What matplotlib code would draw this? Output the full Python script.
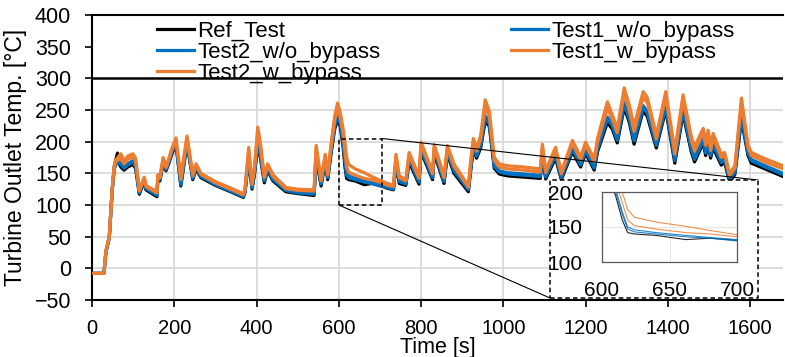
import matplotlib
matplotlib.use("Agg")
import matplotlib.pyplot as plt
from matplotlib.patches import Rectangle, ConnectionPatch

plt.rcParams['font.family'] = ['Liberation Sans', 'DejaVu Sans']

# Time stamps [s] of the recorded turbine outlet temperatures
time_s = [0, 29, 34, 42, 49, 54, 58, 62, 66, 70, 78, 87, 99, 106, 115, 127, 131, 158, 160, 165,
          173, 180, 188, 194, 204, 216, 231, 245, 253, 265, 300, 340, 368, 372, 381, 389, 395, 403, 410, 419,
          427, 440, 471, 500, 540, 545, 557, 567, 573, 581, 590, 597, 603, 610, 615, 619, 624, 640, 662, 680,
          700, 715, 733, 739, 747, 763, 771, 795, 800, 828, 832, 856, 864, 880, 915, 920, 927, 935, 945, 956,
          966, 978, 990, 1010, 1050, 1090, 1095, 1103, 1127, 1141, 1168, 1188, 1200, 1221, 1229, 1253, 1265, 1277, 1294, 1306,
          1318, 1340, 1350, 1372, 1395, 1417, 1437, 1457, 1465, 1486, 1492, 1498, 1504, 1510, 1530, 1538, 1550, 1563, 1579, 1595,
          1603, 1640, 1680]

ref_test = [-8, -8, 26, 48, 122, 160, 172, 182, 165, 160, 155, 160, 164, 158, 117, 137, 124, 113, 140, 138,
            166, 154, 168, 180, 196, 130, 197, 140, 157, 143, 131, 120, 112, 120, 172, 125, 148, 196, 172, 135,
            155, 138, 121, 118, 115, 175, 130, 168, 140, 180, 220, 234, 225, 195, 160, 142, 140, 138, 132, 134,
            131, 127, 124, 165, 134, 131, 168, 133, 184, 140, 181, 134, 180, 150, 121, 150, 188, 174, 190, 233,
            224, 158, 149, 146, 144, 142, 178, 141, 174, 140, 184, 160, 182, 155, 184, 230, 220, 198, 254, 231,
            196, 249, 240, 190, 250, 166, 244, 184, 168, 198, 178, 197, 174, 190, 163, 168, 136, 148, 235, 178,
            166, 156, 145]

test1_wo_bypass = [-8, -8, 27, 49, 123, 157, 164, 166, 166, 164, 158, 163, 168, 160, 119, 139, 126, 115, 142, 140,
                   168, 156, 170, 183, 198, 132, 199, 142, 159, 145, 132, 121, 113, 121, 176, 127, 150, 200, 176, 138,
                   158, 140, 123, 119, 117, 180, 133, 171, 143, 183, 224, 240, 230, 200, 168, 147, 143, 140, 136, 134,
                   130, 128, 125, 168, 137, 133, 172, 136, 187, 143, 184, 137, 183, 154, 124, 153, 192, 177, 194, 238,
                   228, 161, 152, 149, 147, 145, 182, 144, 178, 143, 188, 163, 186, 158, 188, 236, 225, 202, 259, 236,
                   201, 254, 245, 194, 255, 170, 249, 188, 172, 202, 182, 201, 178, 194, 167, 172, 139, 151, 240, 182,
                   170, 159, 148]

test2_wo_bypass = [-8, -8, 27, 49, 123, 157, 165, 167, 168, 165, 160, 165, 170, 162, 120, 140, 127, 116, 143, 141,
                   169, 157, 171, 184, 199, 134, 200, 143, 160, 146, 133, 122, 114, 122, 178, 128, 152, 203, 178, 139,
                   159, 142, 124, 120, 118, 182, 134, 173, 144, 185, 226, 242, 233, 205, 172, 150, 146, 142, 138, 135,
                   132, 130, 127, 170, 139, 135, 174, 138, 189, 145, 186, 139, 185, 156, 125, 155, 194, 179, 196, 241,
                   231, 163, 154, 151, 149, 147, 184, 146, 180, 145, 190, 165, 188, 160, 191, 239, 228, 205, 262, 238,
                   204, 257, 248, 197, 258, 173, 252, 191, 175, 205, 185, 204, 180, 197, 169, 174, 141, 153, 243, 184,
                   172, 161, 150]

test1_w_bypass = [-8, -8, 28, 50, 125, 160, 168, 170, 172, 175, 165, 172, 176, 170, 122, 142, 129, 119, 146, 143,
                  172, 159, 174, 187, 203, 140, 205, 146, 163, 148, 135, 124, 116, 124, 186, 132, 157, 215, 188, 143,
                  162, 145, 126, 123, 122, 189, 138, 177, 147, 191, 234, 252, 240, 215, 185, 160, 152, 147, 142, 140,
                  136, 132, 129, 176, 143, 138, 179, 142, 195, 149, 191, 143, 190, 161, 128, 161, 200, 185, 204, 255,
                  240, 170, 160, 157, 155, 152, 191, 151, 186, 149, 197, 171, 195, 168, 199, 253, 235, 214, 276, 250,
                  216, 270, 262, 204, 271, 180, 265, 201, 185, 214, 194, 212, 186, 206, 175, 179, 146, 158, 260, 190,
                  178, 167, 157]

test2_w_bypass = [-8, -8, 28, 50, 125, 162, 172, 174, 178, 181, 170, 177, 181, 174, 124, 144, 131, 121, 148, 145,
                  175, 161, 176, 189, 206, 145, 209, 149, 165, 150, 137, 126, 118, 125, 191, 135, 160, 223, 195, 146,
                  165, 148, 128, 125, 124, 194, 140, 180, 150, 195, 240, 261, 248, 222, 200, 175, 164, 157, 151, 145,
                  139, 135, 131, 180, 146, 140, 183, 145, 199, 152, 195, 146, 194, 165, 130, 165, 205, 190, 210, 266,
                  248, 175, 165, 162, 160, 157, 196, 155, 191, 152, 202, 176, 199, 173, 205, 263, 242, 221, 285, 258,
                  225, 279, 270, 210, 279, 186, 274, 208, 192, 221, 200, 218, 190, 213, 180, 183, 150, 162, 269, 194,
                  183, 172, 162]

series = [
    ("Ref_Test", ref_test, "#000000"),
    ("Test1_w/o_bypass", test1_wo_bypass, "#0070C0"),
    ("Test2_w/o_bypass", test2_wo_bypass, "#0070C0"),
    ("Test1_w_bypass", test1_w_bypass, "#ED7D31"),
    ("Test2_w_bypass", test2_w_bypass, "#ED7D31"),
]
legend_order = ["Ref_Test", "Test2_w/o_bypass", "Test2_w_bypass", "Test1_w/o_bypass", "Test1_w_bypass"]

x_ticks = [0, 200, 400, 600, 800, 1000, 1200, 1400, 1600]
y_ticks = [-50, 0, 50, 100, 150, 200, 250, 300, 350, 400]
zoom_x_ticks = [600, 650, 700]
zoom_y_ticks = [100, 150, 200]

W, H = 785, 357
fig = plt.figure(figsize=(W / 100, H / 100), dpi=100)
ax = fig.add_axes([92 / W, 1 - 300 / H, 691 / W, 285 / H])

handles = {}
for name, vals, col in series:
    (ln,) = ax.plot(time_s, vals, color=col, lw=2.3, solid_joinstyle='round', zorder=3)
    handles[name] = ln

ax.set_xlim(0, 1680)
ax.set_ylim(-50, 400)
ax.set_xticks(x_ticks)
ax.set_yticks(y_ticks)
ax.set_axisbelow(True)
ax.grid(True, color='#D9D9D9', lw=1.3)
ax.tick_params(axis='y', direction='out', length=5, width=1.2, pad=10, labelsize=15.5)
ax.tick_params(axis='x', direction='out', length=5, width=1.2, pad=9, labelsize=14.5)
for side in ('left', 'bottom', 'top'):
    ax.spines[side].set_linewidth(1.5)
    ax.spines[side].set_color('black')
ax.spines['right'].set_visible(False)

# legend band above 300 °C
ax.axhspan(300, 400, color='white', zorder=1)
ax.axhline(300, color='black', lw=1.8, zorder=4)

ax.set_ylabel("Turbine Outlet Temp. [°C]", fontsize=16.5)
ax.yaxis.set_label_coords(-0.094, 0.5)
ax.set_xlabel("Time [s]", fontsize=15.5)
ax.xaxis.set_label_coords(0.5, -0.13)

leg = ax.legend([handles[n] for n in legend_order], legend_order, ncol=2,
                loc='upper left', bbox_to_anchor=(157 / W, 1 - 21 / H),
                bbox_transform=fig.transFigure, frameon=False, fontsize=16,
                handlelength=1.65, handletextpad=0.15, labelspacing=0.0,
                columnspacing=5.9, borderpad=0, borderaxespad=0)
leg.set_zorder(5)

# dashed marker of the zoomed window
ax.add_patch(Rectangle((600, 100), 105, 105, fill=False, ls=(0, (3, 2)), lw=1.1,
                       ec='black', zorder=5))

# dashed frame holding the zoomed view
box_l, box_t, box_r, box_b = 550, 180, 758, 298
fig.add_artist(Rectangle((box_l / W, 1 - box_b / H), (box_r - box_l) / W, (box_b - box_t) / H,
                         transform=fig.transFigure, fc='white', ec='black', ls=(0, (3, 2)),
                         lw=1.1, zorder=2))
for xa, ya, xb, yb in [(705, 205, box_r, box_t), (600, 100, box_l, box_b)]:
    con = ConnectionPatch(xyA=(xa, ya), coordsA=ax.transData,
                          xyB=(xb / W, 1 - yb / H), coordsB=fig.transFigure,
                          color='black', lw=0.8, zorder=1.5)
    fig.add_artist(con)

axi = fig.add_axes([602 / W, 1 - 262 / H, 135 / W, 70 / H], zorder=3)
for name, vals, col in series:
    axi.plot(time_s, vals, color=col, lw=0.8, alpha=0.85)
axi.set_xlim(600, 700)
axi.set_ylim(100, 200)
axi.set_xticks(zoom_x_ticks)
axi.set_yticks(zoom_y_ticks)
axi.set_axisbelow(True)
axi.grid(True, color='#E6E6E6', lw=0.8)
axi.tick_params(length=0, labelsize=15)
axi.tick_params(axis='x', pad=14)
axi.tick_params(axis='y', pad=14)
for sp in axi.spines.values():
    sp.set_color('#595959')
    sp.set_linewidth(0.9)

fig.savefig("out.png", dpi=100)
